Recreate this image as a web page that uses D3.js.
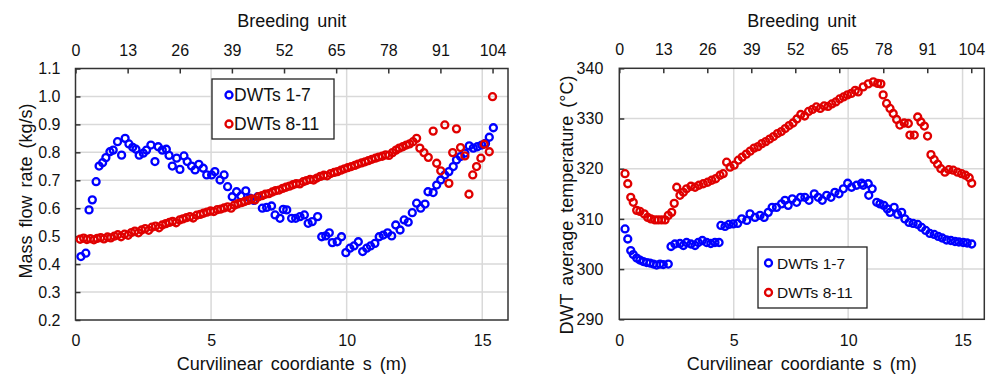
<!DOCTYPE html>
<html>
<head>
<meta charset="utf-8">
<script src="https://cdn.jsdelivr.net/npm/d3@7"></script>
<style>
  body { margin: 0; background: #fff; }
  svg { display: block; font-family: "Liberation Sans", Arial, sans-serif; }
  .tick text { font-size: 16px; fill: #111; }
</style>
</head>
<body>
<svg id="chart" width="992" height="374"></svg>
<script>
// s (m) / value pairs
var flowBlue = [[0.20,0.427],[0.38,0.439],[0.50,0.594],[0.62,0.630],[0.76,0.695],[0.87,0.751],[1.00,0.763],[1.12,0.781],[1.27,0.802],[1.39,0.808],
  [1.55,0.838],[1.70,0.790],[1.83,0.850],[1.97,0.830],[2.11,0.818],[2.23,0.811],[2.35,0.790],[2.50,0.797],[2.62,0.808],[2.78,0.826],
  [2.93,0.767],[3.05,0.820],[3.20,0.808],[3.35,0.811],[3.45,0.789],[3.57,0.751],[3.73,0.779],[3.85,0.739],[4.00,0.787],[4.12,0.767],
  [4.28,0.751],[4.41,0.737],[4.55,0.757],[4.71,0.743],[4.84,0.719],[5.02,0.719],[5.14,0.731],[5.33,0.701],[5.48,0.719],[5.61,0.677],
  [5.78,0.641],[5.94,0.659],[6.10,0.644],[6.28,0.662],[6.43,0.636],[6.58,0.628],[6.72,0.641],[6.89,0.600],[7.05,0.603],[7.23,0.608],
  [7.36,0.576],[7.54,0.564],[7.66,0.596],[7.79,0.594],[7.97,0.564],[8.12,0.564],[8.28,0.570],[8.44,0.576],[8.58,0.546],[8.73,0.552],
  [8.93,0.570],[9.08,0.498],[9.23,0.501],[9.36,0.512],[9.47,0.477],[9.65,0.480],[9.81,0.498],[9.97,0.441],[10.12,0.457],[10.27,0.465],
  [10.43,0.480],[10.59,0.445],[10.74,0.457],[10.88,0.465],[11.04,0.474],[11.20,0.498],[11.35,0.504],[11.51,0.512],[11.66,0.501],[11.81,0.540],
  [11.97,0.522],[12.12,0.558],[12.27,0.550],[12.42,0.584],[12.58,0.618],[12.73,0.600],[12.89,0.615],[13.00,0.659],[13.19,0.656],[13.32,0.683],
  [13.47,0.701],[13.62,0.719],[13.77,0.731],[13.93,0.749],[14.05,0.773],[14.20,0.785],[14.36,0.797],[14.52,0.823],[14.67,0.815],[14.82,0.820],
  [14.98,0.826],[15.12,0.832],[15.26,0.854],[15.41,0.888]];

var flowRed = [[0.17,0.489],[0.30,0.493],[0.42,0.488],[0.55,0.491],[0.68,0.487],[0.80,0.492],[0.93,0.495],[1.05,0.490],[1.18,0.497],[1.30,0.494],
  [1.43,0.500],[1.56,0.505],[1.68,0.498],[1.81,0.507],[1.94,0.503],[2.06,0.513],[2.19,0.518],[2.32,0.512],[2.44,0.522],[2.57,0.527],
  [2.70,0.521],[2.82,0.532],[2.95,0.536],[3.08,0.530],[3.20,0.540],[3.33,0.545],[3.46,0.549],[3.58,0.553],[3.71,0.548],[3.84,0.558],
  [3.96,0.562],[4.09,0.566],[4.22,0.570],[4.34,0.565],[4.47,0.575],[4.60,0.578],[4.72,0.582],[4.85,0.586],[4.98,0.590],[5.10,0.588],
  [5.23,0.595],[5.36,0.597],[5.48,0.601],[5.61,0.605],[5.74,0.600],[5.86,0.611],[5.99,0.616],[6.12,0.620],[6.24,0.624],[6.37,0.628],
  [6.50,0.633],[6.62,0.630],[6.75,0.641],[6.88,0.645],[7.00,0.650],[7.13,0.652],[7.26,0.658],[7.38,0.663],[7.51,0.665],[7.64,0.671],
  [7.76,0.675],[7.89,0.679],[8.02,0.684],[8.14,0.688],[8.27,0.687],[8.40,0.695],[8.52,0.699],[8.65,0.703],[8.78,0.701],[8.90,0.708],
  [9.03,0.714],[9.16,0.718],[9.28,0.716],[9.41,0.724],[9.54,0.728],[9.66,0.731],[9.79,0.736],[9.92,0.741],[10.04,0.745],[10.17,0.749],
  [10.30,0.753],[10.42,0.758],[10.55,0.762],[10.68,0.766],[10.80,0.770],[10.93,0.775],[11.06,0.779],[11.18,0.783],[11.31,0.786],[11.44,0.791],
  [11.56,0.789],[11.69,0.799],[11.82,0.808],[11.94,0.815],[12.07,0.820],[12.20,0.826],[12.32,0.830],[12.45,0.838],[12.58,0.850],
  [12.70,0.815],[12.85,0.799],[13.01,0.782],[13.19,0.876],[13.32,0.761],[13.47,0.734],[13.62,0.898],[13.77,0.689],[13.91,0.799],[14.05,0.884],
  [14.20,0.817],[14.36,0.787],[14.51,0.650],[14.65,0.719],[14.79,0.749],[14.95,0.779],[15.07,0.829],[15.26,0.802],[15.38,0.999]];

var tempBlue = [[0.25,308.0],[0.37,306.0],[0.50,303.7],[0.61,302.9],[0.76,302.2],[0.90,301.8],[1.05,301.5],[1.20,301.3],[1.34,301.2],[1.49,301.0],
  [1.63,300.8],[1.78,301.0],[1.92,300.9],[2.14,301.0],[2.26,304.5],[2.43,305.0],[2.65,305.1],[2.80,304.7],[2.94,305.3],[3.13,305.0],
  [3.31,304.7],[3.45,305.3],[3.63,305.7],[3.82,305.3],[4.00,305.1],[4.18,305.3],[4.36,305.3],[4.44,308.7],[4.62,308.5],[4.79,308.9],
  [4.98,309.0],[5.17,309.1],[5.35,310.0],[5.57,309.7],[5.71,311.0],[5.93,310.3],[6.15,310.7],[6.33,310.3],[6.51,311.3],[6.68,312.3],
  [6.87,312.3],[7.09,313.0],[7.24,313.7],[7.38,312.7],[7.56,314.0],[7.75,313.3],[7.92,314.3],[8.11,314.3],[8.29,313.7],[8.52,315.0],
  [8.69,314.3],[8.87,313.7],[9.06,314.7],[9.25,314.3],[9.42,315.3],[9.60,315.0],[9.79,316.0],[9.98,317.1],[10.15,316.3],[10.37,316.7],
  [10.59,317.1],[10.66,316.7],[10.88,317.0],[10.90,314.7],[11.05,316.0],[11.25,313.3],[11.39,313.0],[11.56,312.7],[11.71,312.0],[11.83,311.3],
  [12.01,312.3],[12.16,310.9],[12.34,311.3],[12.48,310.0],[12.66,309.3],[12.84,309.1],[13.04,308.9],[13.21,308.3],[13.39,307.7],[13.57,307.1],
  [13.76,306.9],[13.94,306.5],[14.11,306.2],[14.30,305.8],[14.49,305.7],[14.67,305.5],[14.84,305.4],[15.03,305.3],[15.20,305.2],[15.40,305.0]];

var tempRed = [[0.25,319.0],[0.37,317.0],[0.50,314.3],[0.61,313.3],[0.76,311.7],[0.90,311.5],[1.09,311.0],[1.24,310.3],[1.38,310.0],[1.56,309.8],
  [1.70,309.8],[1.85,309.8],[2.00,309.8],[2.14,310.7],[2.29,311.3],[2.40,313.1],[2.51,316.3],[2.65,314.7],[2.80,315.3],[2.94,316.0],
  [3.13,316.5],[3.31,316.3],[3.48,316.7],[3.67,317.0],[3.86,317.3],[4.04,317.7],[4.21,318.0],[4.40,318.7],[4.54,319.0],[4.69,321.3],
  [4.84,320.3],[5.02,320.7],[5.20,321.7],[5.37,322.3],[5.55,322.9],[5.72,323.5],[5.89,324.1],[6.06,324.4],[6.23,325.0],[6.40,325.4],
  [6.57,325.9],[6.74,326.4],[6.91,327.0],[7.08,327.4],[7.25,328.0],[7.42,328.6],[7.59,329.1],[7.76,329.9],[7.93,330.8],[8.10,330.5],
  [8.27,331.4],[8.44,331.8],[8.61,332.3],[8.78,332.0],[8.95,332.5],[9.12,332.4],[9.29,332.9],[9.46,333.3],[9.63,333.9],[9.80,334.3],
  [9.97,334.7],[10.14,335.0],[10.31,335.6],[10.44,335.3],[10.66,336.3],[10.88,336.9],[11.10,337.3],[11.29,337.0],[11.43,336.9],[11.53,334.7],
  [11.68,333.0],[11.83,332.0],[11.97,331.0],[12.12,329.8],[12.26,328.7],[12.45,329.1],[12.63,329.0],[12.70,326.7],[12.89,326.7],[13.04,330.3],
  [13.18,329.3],[13.33,328.5],[13.47,326.5],[13.62,322.8],[13.76,321.8],[13.91,320.9],[14.05,320.0],[14.23,319.3],[14.40,319.8],[14.59,319.7],
  [14.78,319.3],[14.96,319.0],[15.13,318.7],[15.29,318.2],[15.40,317.1]];

var seriesNames = ["DWTs 1-7", "DWTs 8-11"];
var seriesColors = ["#0000ff", "#e00000"];
var unitTicks = [0, 13, 26, 39, 52, 65, 78, 91, 104];
var sTicks = [0, 5, 10, 15];
var flowTicks = [0.2, 0.3, 0.4, 0.5, 0.6, 0.7, 0.8, 0.9, 1.0, 1.1];
var tempTicks = [290, 300, 310, 320, 330, 340];

var sMax = 15.95;
var unitsPerMetre = 104 / 15.38;

var svg = d3.select("#chart");

function drawPanel(p) {
  var x = d3.scaleLinear().domain([0, sMax]).range([p.left, p.right]);
  var xTop = d3.scaleLinear().domain([0, sMax * unitsPerMetre]).range([p.left, p.right]);
  var y = d3.scaleLinear().domain(p.yDomain).range([p.bottom, p.top]);
  var g = svg.append("g");

  // grid
  g.selectAll(".gx").data(sTicks.slice(1)).enter().append("line")
    .attr("x1", d => x(d)).attr("x2", d => x(d))
    .attr("y1", p.top).attr("y2", p.bottom)
    .attr("stroke", "#d9d9d9").attr("stroke-width", 1.5);
  g.selectAll(".gy").data(p.yTicks.slice(1, -1)).enter().append("line")
    .attr("x1", p.left).attr("x2", p.right)
    .attr("y1", d => y(d)).attr("y2", d => y(d))
    .attr("stroke", "#d9d9d9").attr("stroke-width", 1.5);

  // axes
  var ax = g.append("g").attr("transform", "translate(" + p.left + ",0)")
    .call(d3.axisLeft(y).tickValues(p.yTicks).tickFormat(p.fmt).tickSize(-5).tickPadding(p.yPad));
  var bx = g.append("g").attr("transform", "translate(0," + p.bottom + ")")
    .call(d3.axisBottom(x).tickValues(sTicks).tickFormat(d3.format("d")).tickSize(0).tickPadding(15));
  var tx = g.append("g").attr("transform", "translate(0," + p.top + ")")
    .call(d3.axisTop(xTop).tickValues(unitTicks).tickFormat(d3.format("d")).tickSize(-5).tickPadding(13));
  [ax, bx, tx].forEach(function(a) {
    a.select(".domain").remove();
    a.selectAll(".tick line").attr("stroke", "#333").attr("stroke-width", 1.5);
    a.selectAll(".tick text").style("font-size", "16px").attr("fill", "#111");
  });
  bx.selectAll(".tick line").remove();

  g.append("rect")
    .attr("x", p.left).attr("y", p.top)
    .attr("width", p.right - p.left).attr("height", p.bottom - p.top)
    .attr("fill", "none").attr("stroke", "#333").attr("stroke-width", 1.5);

  // points
  p.series.forEach(function(data, i) {
    g.append("g").selectAll("circle").data(data).enter().append("circle")
      .attr("cx", d => x(d[0])).attr("cy", d => y(d[1])).attr("r", 3.5)
      .attr("fill", "none").attr("stroke", seriesColors[i]).attr("stroke-width", 2.3);
  });

  // titles
  var cx = (p.left + p.right) / 2;
  g.append("text").attr("x", cx).attr("y", 27).attr("text-anchor", "middle")
    .style("font-size", "18px").style("word-spacing", "3px").attr("fill", "#111").text("Breeding unit");
  g.append("text").attr("x", cx).attr("y", 370).attr("text-anchor", "middle")
    .style("font-size", "18px").style("word-spacing", "3px").attr("fill", "#111").text("Curvilinear coordiante s (m)");
  g.append("text")
    .attr("transform", "translate(" + p.yTitleX + "," + p.yTitleY + ") rotate(-90)")
    .attr("text-anchor", "middle").style("font-size", "18px").style("word-spacing", "3px")
    .attr("fill", "#111").text(p.yTitle);

  // legend
  var L = p.legend;
  var lg = g.append("g");
  lg.append("rect").attr("x", L.x).attr("y", L.y).attr("width", L.w).attr("height", L.h)
    .attr("fill", "#fff").attr("stroke", "#222").attr("stroke-width", 1.3);
  seriesNames.forEach(function(name, i) {
    var cy = L.y + L.first + i * L.step;
    lg.append("circle").attr("cx", L.x + L.mark).attr("cy", cy).attr("r", 3.5)
      .attr("fill", "none").attr("stroke", seriesColors[i]).attr("stroke-width", 2.3);
    lg.append("text").attr("x", L.x + L.mark + L.gap).attr("y", cy).attr("dy", "0.36em")
      .style("font-size", L.font + "px").attr("fill", "#111").text(name);
  });
}

drawPanel({
  left: 75.5, right: 508, top: 68.5, bottom: 320,
  yDomain: [0.2, 1.1], yTicks: flowTicks, fmt: d3.format(".1f"), yPad: 15,
  yTitle: "Mass flow rate (kg/s)", yTitleX: 32, yTitleY: 191,
  series: [flowBlue, flowRed],
  legend: { x: 212, y: 79, w: 122, h: 60, first: 16, step: 29, mark: 17, gap: 5, font: 17.5 }
});

drawPanel({
  left: 619.3, right: 984.3, top: 68.3, bottom: 319.3,
  yDomain: [290, 340], yTicks: tempTicks, fmt: d3.format("d"), yPad: 16,
  yTitle: "DWT average temperature (°C)", yTitleX: 573, yTitleY: 205,
  series: [tempBlue, tempRed],
  legend: { x: 758, y: 247, w: 109, h: 61, first: 16, step: 29.5, mark: 10.5, gap: 8.5, font: 15.5 }
});
</script>
</body>
</html>
